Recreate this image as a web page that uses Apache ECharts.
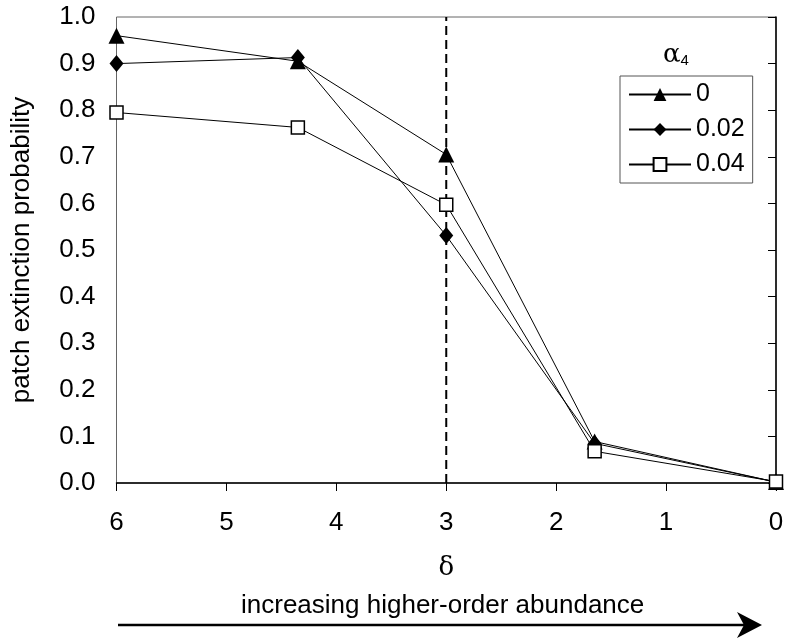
<!DOCTYPE html>
<html>
<head>
<meta charset="utf-8">
<script src="https://cdn.jsdelivr.net/npm/echarts@6/dist/echarts.min.js"></script>
<style>
  html, body { margin: 0; padding: 0; background: #fff; }
  #ec { width: 788px; height: 641px; }
</style>
</head>
<body>
<div id="ec"></div>
<script>
// delta values (x axis, reversed)
var deltas = [6, 4.35, 3, 1.65, 0];
// patch extinction probability per alpha4
var alpha_0 = [0.96, 0.905, 0.705, 0.089, 0.002];
var alpha_002 = [0.90, 0.913, 0.531, 0.085, 0.002];
var alpha_004 = [0.795, 0.763, 0.597, 0.068, 0.003];
var legend_names = ['0', '0.02', '0.04'];
// dashed reference line at delta = 3
var ref_delta = 3;

var font = '"Liberation Sans", Arial, sans-serif';

function pairs(ys) {
  return ys.map(function(v, i) { return [deltas[i], v]; });
}

var ec = echarts.init(document.getElementById('ec'));

var option = {
  animation: false,
  backgroundColor: '#fff',
  grid: {
    left: 116.5, right: 12, top: 17, bottom: 158,
    show: true, borderColor: '#666', borderWidth: 1
  },
  legend: {
    orient: 'vertical',
    left: 620, top: 76,
    padding: [6, 8, 6, 8],
    itemWidth: 62, itemHeight: 16, itemGap: 10,
    borderColor: '#555', borderWidth: 1,
    data: legend_names,
    textStyle: { fontFamily: font, fontSize: 25, color: '#000' }
  },
  xAxis: {
    type: 'value',
    inverse: true,
    min: 0, max: 6, interval: 1,
    name: 'δ',
    nameLocation: 'middle',
    nameGap: 72,
    nameTextStyle: { fontFamily: '"DejaVu Serif", serif', fontSize: 26, color: '#000' },
    axisLine: { lineStyle: { color: '#000', width: 1.5 } },
    axisTick: { show: true, length: 8, lineStyle: { color: '#000' } },
    axisLabel: { margin: 27, fontFamily: font, fontSize: 26, color: '#000' },
    splitLine: { show: false }
  },
  yAxis: {
    type: 'value',
    min: 0, max: 1, interval: 0.1,
    name: 'patch extinction probability',
    nameLocation: 'middle',
    nameGap: 82,
    nameTextStyle: { fontFamily: font, fontSize: 26, color: '#000' },
    axisLine: { show: true, lineStyle: { color: '#000', width: 1.5 } },
    axisTick: { show: true, length: 8, lineStyle: { color: '#000' } },
    axisLabel: {
      margin: 21, fontFamily: font, fontSize: 26, color: '#000',
      formatter: function(v) { return v.toFixed(1); }
    },
    splitLine: { show: false }
  },
  graphic: [
    // legend title alpha_4
    {
      type: 'text', left: 663, top: 42,
      style: {
        text: '{a|α}{s|4}',
        rich: {
          a: { fontFamily: '"DejaVu Serif", serif', fontSize: 26, fill: '#000' },
          s: { fontFamily: font, fontSize: 15, fill: '#000', verticalAlign: 'bottom', padding: [9, 0, 0, 0] }
        }
      }
    },
    // bottom caption + arrow
    {
      type: 'text', left: 241, top: 593,
      style: { text: 'increasing higher-order abundance', fontFamily: font, fontSize: 26, fill: '#000' }
    },
    {
      type: 'line',
      shape: { x1: 118, y1: 625, x2: 745, y2: 625 },
      style: { stroke: '#000', lineWidth: 2.5 }
    },
    {
      type: 'polygon',
      shape: { points: [[737, 612], [762, 625], [737, 638], [744, 625]] },
      style: { fill: '#000' }
    }
  ],
  series: [
    {
      name: legend_names[0], type: 'line',
      data: pairs(alpha_0),
      symbol: 'triangle', symbolSize: 16,
      lineStyle: { color: '#000', width: 1 },
      itemStyle: { color: '#000' },
      z: 3
    },
    {
      name: legend_names[1], type: 'line',
      data: pairs(alpha_002),
      symbol: 'diamond', symbolSize: [14, 17],
      lineStyle: { color: '#000', width: 1 },
      itemStyle: { color: '#000' },
      z: 3
    },
    {
      name: legend_names[2], type: 'line',
      data: pairs(alpha_004),
      symbol: 'rect', symbolSize: 13,
      showAllSymbol: true,
      lineStyle: { color: '#000', width: 1 },
      itemStyle: { color: '#fff', borderColor: '#000', borderWidth: 1.5 },
      z: 4
    },
    {
      // vertical dashed line
      type: 'line',
      data: [[ref_delta, 0], [ref_delta, 1]],
      symbol: 'none',
      silent: true,
      lineStyle: { color: '#000', width: 2, type: [9, 5] },
      z: 2
    }
  ]
};
ec.setOption(option);
</script>
</body>
</html>
